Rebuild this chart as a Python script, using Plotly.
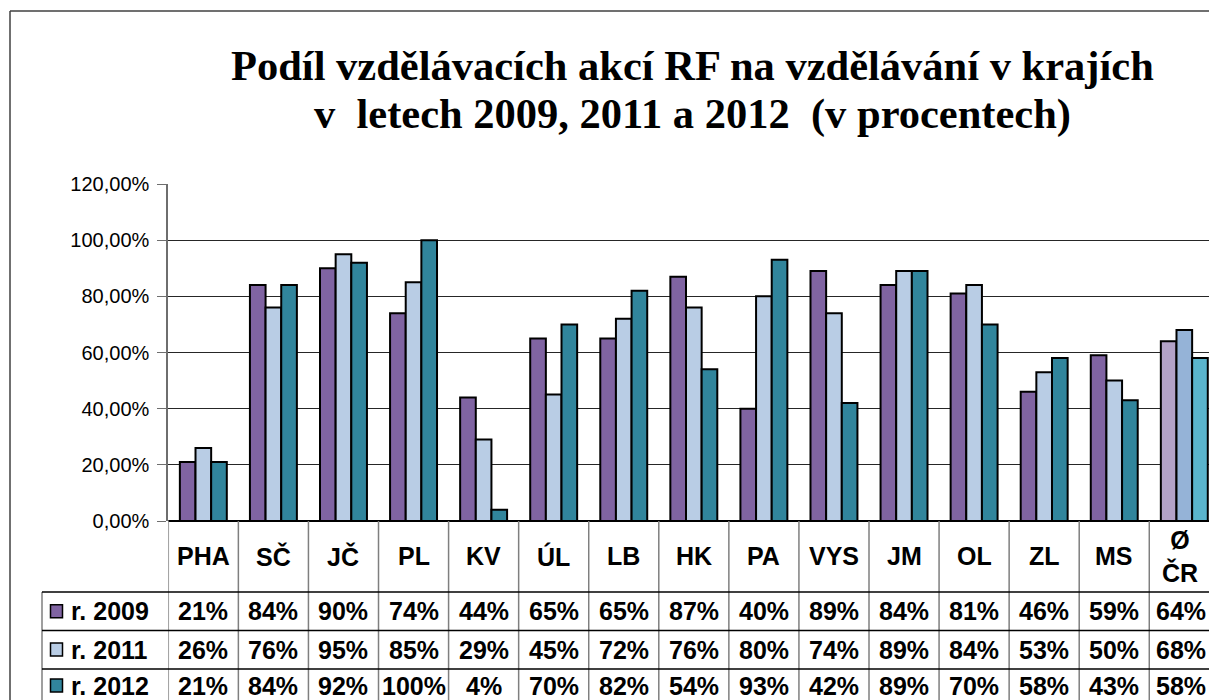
import plotly.graph_objects as go

categories = ["PHA", "SČ", "JČ", "PL", "KV", "ÚL", "LB", "HK", "PA", "VYS", "JM", "OL", "ZL", "MS", "Ø<br>ČR"]
series_names = ["r. 2009", "r. 2011", "r. 2012"]
v2009 = [0.21, 0.84, 0.90, 0.74, 0.44, 0.65, 0.65, 0.87, 0.40, 0.89, 0.84, 0.81, 0.46, 0.59, 0.64]
v2011 = [0.26, 0.76, 0.95, 0.85, 0.29, 0.45, 0.72, 0.76, 0.80, 0.74, 0.89, 0.84, 0.53, 0.50, 0.68]
v2012 = [0.21, 0.84, 0.92, 1.00, 0.04, 0.70, 0.82, 0.54, 0.93, 0.42, 0.89, 0.70, 0.58, 0.43, 0.58]
series_values = [v2009, v2011, v2012]
base_colors = ["#8064A2", "#B9CDE5", "#31859C"]
avg_colors = ["#B3A2C7", "#95B3D7", "#5AB4CC"]
title_lines = ["Podíl vzdělávacích akcí RF na vzdělávání v krajích", "v  letech 2009, 2011 a 2012  (v procentech)"]

W, H = 1209, 700
plot_left, plot_top, plot_bottom = 168.3, 184, 521
cat_w = 70.07
row_lines = [592, 630.5, 669]
row_centers = [611.3, 649.5, 685.5]
header_center = 556

def py(y):
    return (H - y) / H

def px(x):
    return x / W

xs = list(range(len(categories)))
fig = go.Figure()
for name, vals, bc, ac in zip(series_names, series_values, base_colors, avg_colors):
    cols = [bc] * (len(vals) - 1) + [ac]
    fig.add_trace(go.Bar(x=xs, y=vals, name=name, marker=dict(color=cols, line=dict(color="black", width=2)),
                         showlegend=False, hoverinfo="skip"))

x_end = -0.5 + (W - plot_left) / cat_w

fig.update_layout(
    width=W, height=H, margin=dict(l=0, r=0, t=0, b=0, pad=0, autoexpand=False),
    showlegend=False,
    paper_bgcolor="white", plot_bgcolor="white",
    separators=",.",
    barmode="group", bargap=0.33, bargroupgap=0,
    xaxis=dict(domain=[px(plot_left), 1], range=[-0.5, x_end], showticklabels=False, showgrid=False,
               zeroline=False, showline=False, ticks="", fixedrange=True, automargin=False),
    yaxis=dict(domain=[py(plot_bottom), py(plot_top)], range=[0, 1.2], dtick=0.2, tickformat=".2%",
               showgrid=True, gridcolor="#262626", gridwidth=1, zeroline=False,
               showline=True, linecolor="#6e6e6e", linewidth=2, ticks="outside", ticklen=9,
               tickcolor="#6e6e6e", tickwidth=1, ticklabelstandoff=4, fixedrange=True, automargin=False,
               tickfont=dict(family="Liberation Sans, Arial", size=20, color="black")),
    font=dict(family="Liberation Sans, Arial", color="black"),
)

shapes = []
# outer chart border
shapes.append(dict(type="line", xref="paper", yref="paper", x0=px(10), x1=1, y0=py(11), y1=py(11),
                   line=dict(color="#404040", width=1.5)))
shapes.append(dict(type="line", xref="paper", yref="paper", x0=px(10), x1=px(10), y0=py(11), y1=0,
                   line=dict(color="#404040", width=1.5)))
# baseline of plot
shapes.append(dict(type="line", xref="paper", yref="paper", x0=px(plot_left), x1=1, y0=py(plot_bottom), y1=py(plot_bottom),
                   line=dict(color="black", width=2)))
# table vertical lines at category boundaries
for i in range(len(categories) + 1):
    shapes.append(dict(type="line", xref="x", yref="paper", x0=i - 0.5, x1=i - 0.5, y0=py(plot_bottom), y1=0,
                       line=dict(color="#7f7f7f", width=1.5)))
# legend column left border
shapes.append(dict(type="line", xref="paper", yref="paper", x0=px(42), x1=px(42), y0=py(row_lines[0]), y1=0,
                   line=dict(color="#7f7f7f", width=1.5)))
# horizontal row lines
for yl in row_lines:
    shapes.append(dict(type="line", xref="paper", yref="paper", x0=px(42), x1=1, y0=py(yl), y1=py(yl),
                       line=dict(color="black", width=1.5)))
# legend keys
for yc, col in zip(row_centers, base_colors):
    shapes.append(dict(type="rect", xref="paper", yref="paper", x0=px(50.5), x1=px(62.5),
                       y0=py(yc + 6.5), y1=py(yc - 6.5), fillcolor=col, line=dict(color="black", width=1.5)))
fig.update_layout(shapes=shapes)

ann = []
for line, yc in zip(title_lines, [65.8, 114.1]):
    ann.append(dict(text="<b>" + line + "</b>", xref="paper", yref="paper", x=px(692.5), y=py(yc),
                    showarrow=False, xanchor="center", yanchor="middle",
                    font=dict(family="Liberation Serif, Times New Roman", size=42.5, color="black")))
for i, c in enumerate(categories):
    ann.append(dict(text="<b>" + c + "</b>", xref="x", yref="paper", x=i, y=py(header_center), showarrow=False,
                    xanchor="center", yanchor="middle", xshift=(-4 if i == len(categories) - 1 else 0),
                    font=dict(size=25, color="black")))
for name, vals, yc in zip(series_names, series_values, row_centers):
    ann.append(dict(text="<b>" + name + "</b>", xref="paper", yref="paper", x=px(69), y=py(yc), showarrow=False,
                    xanchor="left", yanchor="middle", font=dict(size=25, color="black")))
    for i, v in enumerate(vals):
        ann.append(dict(text="<b>%d%%</b>" % round(v * 100), xref="x", yref="paper", x=i, y=py(yc), showarrow=False,
                        xanchor="center", yanchor="middle", xshift=(-3 if i == len(vals) - 1 else 0),
                        font=dict(size=25, color="black")))
fig.update_layout(annotations=ann)

fig.write_html("out.html", config={"displayModeBar": False},
               post_script="document.body.style.margin='0px';document.body.style.overflow='hidden';"
                           "document.documentElement.style.overflow='hidden';")
